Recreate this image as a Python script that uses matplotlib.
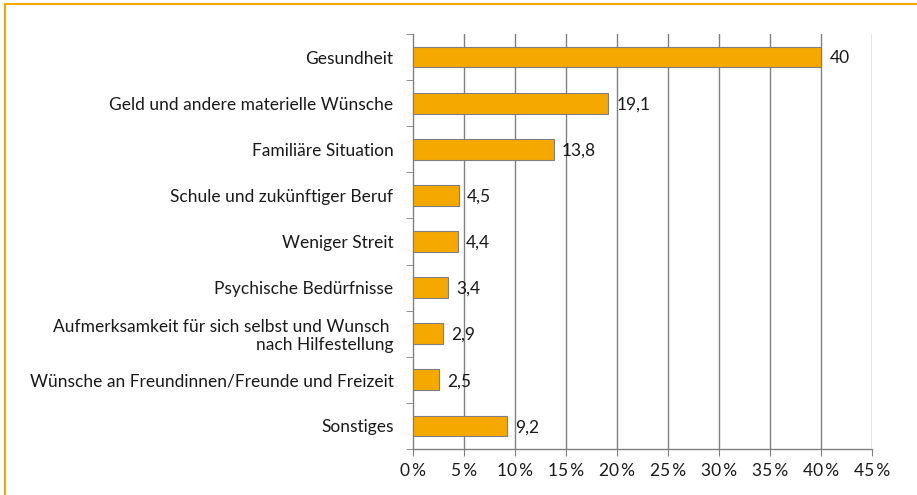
import matplotlib
matplotlib.use("Agg")
import matplotlib.pyplot as plt
from matplotlib.lines import Line2D

categories = [
    "Gesundheit",
    "Geld und andere materielle Wünsche",
    "Familiäre Situation",
    "Schule und zukünftiger Beruf",
    "Weniger Streit",
    "Psychische Bedürfnisse",
    "Aufmerksamkeit für sich selbst und Wunsch \nnach Hilfestellung",
    "Wünsche an Freundinnen/Freunde und Freizeit",
    "Sonstiges",
]
values = [40, 19.1, 13.8, 4.5, 4.4, 3.4, 2.9, 2.5, 9.2]
value_labels = ["40", "19,1", "13,8", "4,5", "4,4", "3,4", "2,9", "2,5", "9,2"]
xticks = [0, 5, 10, 15, 20, 25, 30, 35, 40, 45]
xtick_labels = ["0\u2009%", "5\u2009%", "10\u2009%", "15\u2009%", "20\u2009%", "25\u2009%", "30\u2009%", "35\u2009%", "40\u2009%", "45\u2009%"]

plt.rcParams['font.family'] = ['Lato', 'DejaVu Sans']
FS = 12.5
W, H = 917, 495
fig = plt.figure(figsize=(W / 100, H / 100), dpi=100)

left, right = 413 / W, 872 / W
top, bottom = 1 - 34 / H, 1 - 449 / H
ax = fig.add_axes([left, bottom, right - left, top - bottom])

n = len(categories)
ypos = list(range(n))
ax.barh(ypos, values, height=0.45, color="#F5A800", edgecolor="#7f7f7f", linewidth=0.8, zorder=3)
ax.set_ylim(n - 0.5, -0.5)
ax.set_xlim(0, 45)

gridc = "#808080"
for x in xticks[1:]:
    ax.axvline(x, color=gridc, linewidth=1.0, zorder=1)

for s in ["top", "right"]:
    ax.spines[s].set_visible(False)
ax.spines["left"].set_color(gridc)
ax.spines["bottom"].set_color(gridc)
ax.spines["left"].set_linewidth(1.0)
ax.spines["bottom"].set_linewidth(1.0)

ax.set_xticks(xticks)
ax.set_xticklabels(xtick_labels, fontsize=FS, color="#1a1a1a")
ax.tick_params(axis="x", direction="out", length=5, color=gridc, pad=5)

ax.set_yticks(ypos)
ax.set_yticklabels(categories, fontsize=FS, color="#1a1a1a", linespacing=1.1)
ax.tick_params(axis="y", length=0, pad=14)
ax.set_yticks([i + 0.5 for i in range(-1, n)], minor=True)
ax.tick_params(axis="y", which="minor", direction="out", length=5, color=gridc)

for y, v, lab in zip(ypos, values, value_labels):
    ax.annotate(lab, (v, y), xytext=(6, -1), textcoords="offset points",
                va="center", ha="left", fontsize=FS, color="#1a1a1a", zorder=4)

for t in ax.get_yticklabels():
    t.set_multialignment("right")

orange = "#F5A800"
fig.add_artist(Line2D([4.5 / W, 4.5 / W], [0, 1 - 4 / H], color=orange, linewidth=1.5, transform=fig.transFigure))
fig.add_artist(Line2D([4.5 / W, 1], [1 - 4 / H, 1 - 4 / H], color=orange, linewidth=1.5, transform=fig.transFigure))

fig.savefig("out.png", dpi=100, facecolor="white")
